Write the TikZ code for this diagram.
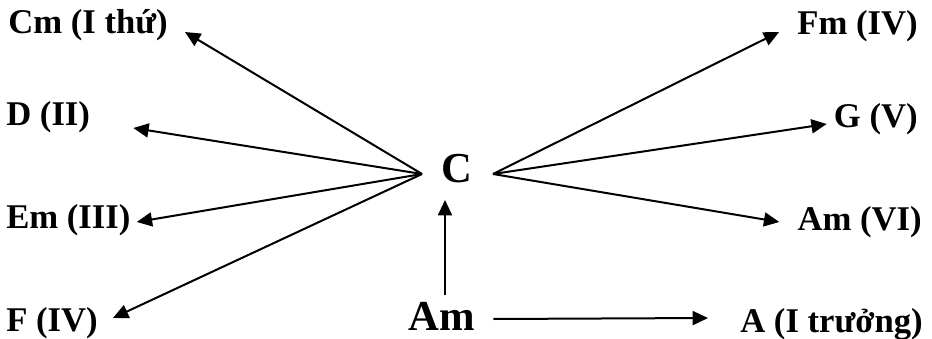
\documentclass[tikz,border=0pt]{standalone}
\usepackage{fontspec}
\setmainfont{Liberation Serif}
\usetikzlibrary{arrows.meta, positioning}

\begin{document}
\begin{tikzpicture}[x=0.75pt, y=-0.75pt,
    chord/.style={inner sep=0pt, font=\fontsize{26}{30}\selectfont\bfseries},
    key/.style={inner sep=0pt, font=\fontsize{32}{36}\selectfont\bfseries},
    arr/.style={-{Triangle[length=11.5pt, width=10.5pt]}, line width=1.5pt}]
  \useasboundingbox (0,0) rectangle (932,339);
  % centre chords
  \node[key, anchor=base] (c) at (457,182) {C};
  \node[key, anchor=base] (am) at (442,330) {Am};
  \coordinate (cl) at ([shift={(-35,-8)}]c.base);
  \coordinate (cr) at ([shift={(36,-8)}]c.base);
  % left side
  \node[chord, anchor=base west] (cm) at (8,33) {Cm (I thứ)};
  \node[chord, anchor=base west] (d) at (6,125) {D (II)};
  \node[chord, anchor=base west] (em) at (6,228) {Em (III)};
  \node[chord, anchor=base west] (f) at (6,331) {F (IV)};
  % right side
  \node[chord, anchor=base east] (fm) at (918,34) {Fm (IV)};
  \node[chord, anchor=base east] (g) at (918,127) {G (V)};
  \node[chord, anchor=base east] (amvi) at (922,230) {Am (VI)};
  \node[chord, anchor=base west] (a) at (740,332) {A (I trưởng)};
  % arrows from C
  \draw[arr] (cl) -- ([shift={(17,-1)}]cm.base east);
  \draw[arr] (cl) -- ([shift={(43,3)}]d.base east);
  \draw[arr] (cl) -- ([shift={(6,-6)}]em.base east);
  \draw[arr] (cl) -- ([shift={(15,-13)}]f.base east);
  \draw[arr] (cr) -- ([shift={(-18,-2)}]fm.base west);
  \draw[arr] (cr) -- ([shift={(-7,-3)}]g.base west);
  \draw[arr] (cr) -- ([shift={(-18,-8)}]amvi.base west);
  % arrows from Am
  \draw[arr] ([shift={(3,-35)}]am.base) -- ([shift={(-12,18)}]c.base);
  \draw[arr] ([shift={(18,-11)}]am.base east) -- ([shift={(-32,-14)}]a.base west);
\end{tikzpicture}
\end{document}
